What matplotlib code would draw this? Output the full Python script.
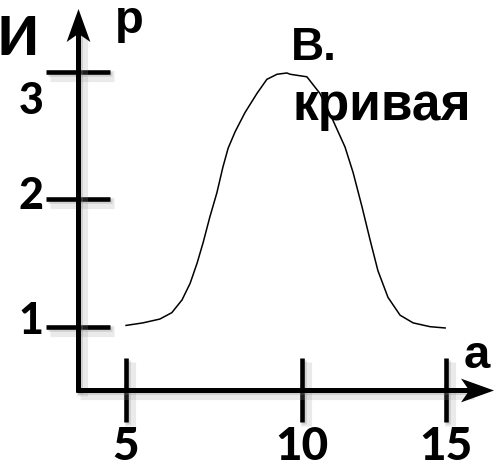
import numpy as np
import matplotlib
matplotlib.use("Agg")
import matplotlib.pyplot as plt
import matplotlib.patheffects as pe
import matplotlib.transforms as mtransforms
from matplotlib.path import Path

# ---- data -------------------------------------------------------------
curve_x = [5.01, 5.49, 5.97, 6.31, 6.60, 6.83, 7.03, 7.20, 7.39, 7.59, 7.76,
           7.91, 8.11, 8.39, 8.73, 9.01, 9.30, 9.58, 9.67, 10.18, 10.63,
           11.08, 11.50, 11.78, 12.09, 12.37, 12.64, 12.99, 13.41, 13.86,
           14.45, 14.97]
curve_y = [1.01, 1.03, 1.06, 1.11, 1.21, 1.34, 1.50, 1.66, 1.86, 2.05, 2.25,
           2.40, 2.53, 2.68, 2.83, 2.94, 2.98, 2.99, 2.98, 2.96, 2.83,
           2.62, 2.41, 2.21, 1.94, 1.68, 1.44, 1.23, 1.09, 1.03,
           1.00, 0.99]
x_ticks = [5, 10, 15]
x_tick_labels = ["5", "10", "15"]
y_ticks = [1, 2, 3]
y_tick_labels = ["1", "2", "3"]
x_label = "а"
y_label = "р"
title_line1 = "В."
title_line2 = "кривая"
corner_text = "ЦИ"

W, H = 500, 470
fig = plt.figure(figsize=(W / 100, H / 100), dpi=100)
ax = fig.add_axes([0, 0, 1, 1])
ax.set_facecolor("none")

# piecewise-linear x scale (the drawn axis is not uniform)
kx = [5, 10, 15]
px = [125.7, 301.7, 446.0]
s1 = (px[1] - px[0]) / (kx[1] - kx[0])
s2 = (px[2] - px[1]) / (kx[2] - kx[1])


def fwd(x):
    x = np.asarray(x, dtype=float)
    return np.where(x <= kx[1], px[0] + (x - kx[0]) * s1, px[1] + (x - kx[1]) * s2)


def inv(p):
    p = np.asarray(p, dtype=float)
    return np.where(p <= px[1], kx[0] + (p - px[0]) / s1, kx[1] + (p - px[1]) / s2)


ax.set_xscale("function", functions=(fwd, inv))
ax.set_xlim(float(inv(0)), float(inv(W)))
ppu = 127.5
y1 = 326.7
ax.set_ylim(1 - (H - y1) / ppu, 1 + y1 / ppu)

# axis geometry in axes fraction
ax_x = 78 / W
ax_y = 1 - 390 / H

shadow = [pe.SimpleLineShadow(offset=(3, -3), shadow_color="0.6", alpha=0.2, linewidth=8),
          pe.SimpleLineShadow(offset=(1.5, -1.5), shadow_color="0.5", alpha=0.25),
          pe.Normal()]

for s in ax.spines.values():
    s.set_visible(False)
ax.spines["left"].set_position(("axes", ax_x))
ax.spines["bottom"].set_position(("axes", ax_y))

# axis lines
lw = 3.6
ax.plot([ax_x, ax_x], [ax_y - 0.004, 1 - 30 / H], color="black", lw=lw,
        transform=ax.transAxes, clip_on=False, solid_capstyle="butt", path_effects=shadow)
ax.plot([ax_x - 0.004, 470 / W], [ax_y, ax_y], color="black", lw=lw,
        transform=ax.transAxes, clip_on=False, solid_capstyle="butt", path_effects=shadow)

# arrow heads
arrow_path = Path([(1, 0), (-1, 0.72), (-0.5, 0), (-1, -0.72), (1, 0)],
                  [Path.MOVETO, Path.LINETO, Path.LINETO, Path.LINETO, Path.CLOSEPOLY])
up_path = Path([(0, 1), (0.72, -1), (0, -0.5), (-0.72, -1), (0, 1)],
               [Path.MOVETO, Path.LINETO, Path.LINETO, Path.LINETO, Path.CLOSEPOLY])
ms = 33 * 0.72
ax.plot([476.5 / W], [ax_y], marker=arrow_path, ms=ms, color="black", mew=0,
        transform=ax.transAxes, clip_on=False)
ax.plot([ax_x], [1 - 24.5 / H], marker=up_path, ms=ms, color="black", mew=0,
        transform=ax.transAxes, clip_on=False)

# curve
ax.plot(curve_x, curve_y, color="black", lw=1.1, solid_joinstyle="round")

# ticks
ax.set_xticks(x_ticks)
ax.set_xticklabels(x_tick_labels)
ax.set_yticks(y_ticks)
ax.set_yticklabels(y_tick_labels)
ax.minorticks_off()
ax.tick_params(axis="x", direction="inout", length=64 * 0.72, width=3.3, pad=3,
               colors="black", labelsize=33)
ax.tick_params(axis="y", direction="inout", length=64 * 0.72, width=3.3, pad=2,
               colors="black", labelsize=31)
for t in ax.xaxis.get_major_ticks() + ax.yaxis.get_major_ticks():
    t.tick1line.set_path_effects(shadow)

num_family = ["Lato", "DejaVu Sans"]
for lab in ax.get_xticklabels():
    lab.set_fontfamily(num_family)
    lab.set_fontweight(900)
y_offsets_px = {"1": 9, "2": 7, "3": -26}
for lab in ax.get_yticklabels():
    lab.set_fontfamily(num_family)
    lab.set_fontweight(900)
    off = y_offsets_px.get(lab.get_text(), 0)
    lab.set_transform(lab.get_transform() +
                      mtransforms.ScaledTranslation(0, off / 100, fig.dpi_scale_trans))

# free text in pixel coordinates (top-left origin)
pix = mtransforms.Affine2D().scale(1 / W, -1 / H).translate(0, 1) + fig.transFigure
txt_family = ["Liberation Sans", "DejaVu Sans"]
fig.text(115, 33, y_label, transform=pix, fontsize=34, fontweight="bold",
         family=txt_family, ha="left", va="baseline")
fig.text(464, 368, x_label, transform=pix, fontsize=34, fontweight="bold",
         family=txt_family, ha="left", va="baseline")
fig.text(291, 60, title_line1, transform=pix, fontsize=33, fontweight="bold",
         family=txt_family, ha="left", va="baseline")
fig.text(292, 120, title_line2, transform=pix, fontsize=37, fontweight="bold",
         family=txt_family, ha="left", va="baseline")
fig.text(40, 55, corner_text, transform=pix, fontsize=39, fontweight=900,
         family=["Lato", "DejaVu Sans"], ha="right", va="baseline")

fig.savefig("out.png", dpi=100, facecolor="white")
